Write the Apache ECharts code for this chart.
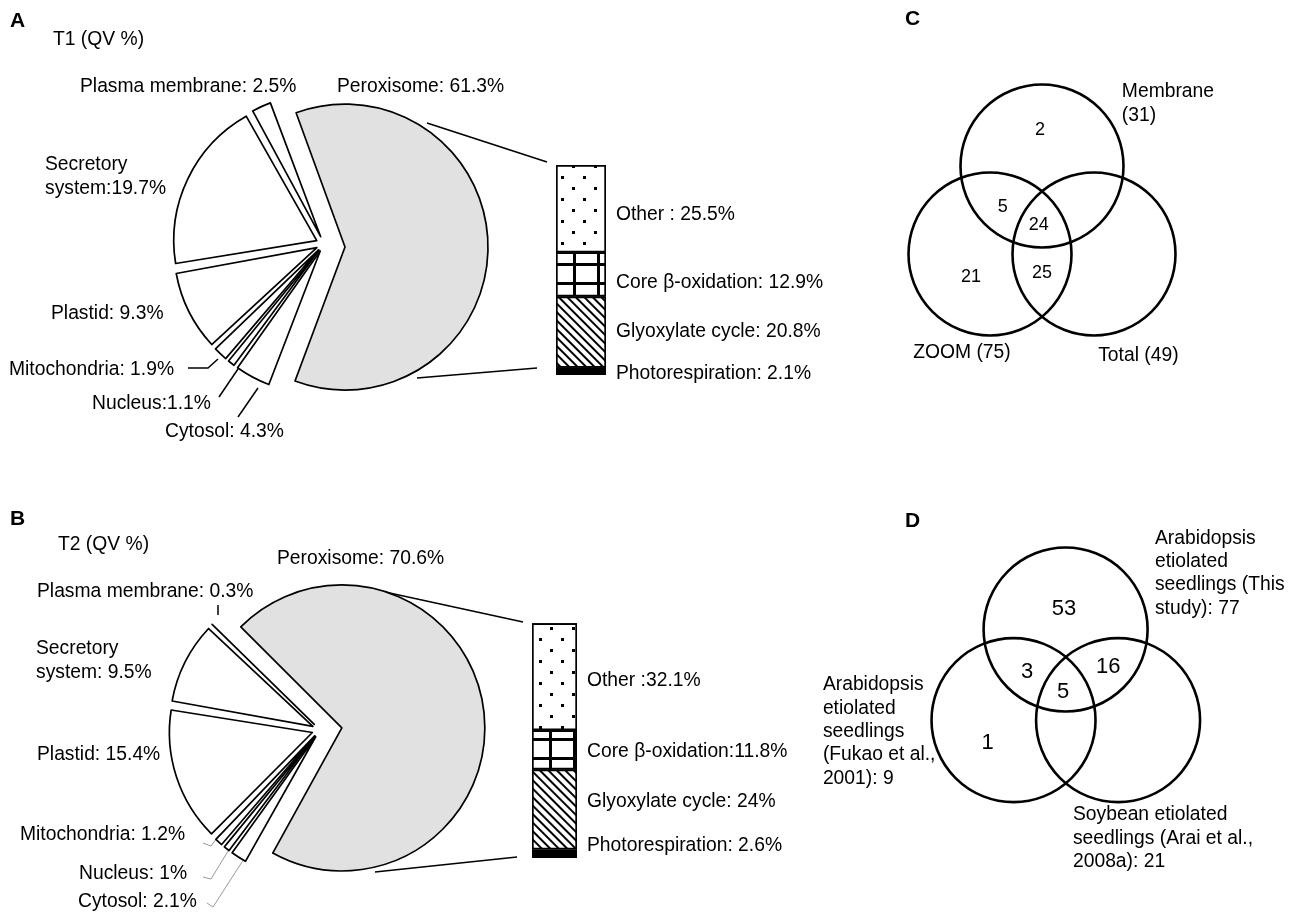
<!DOCTYPE html>
<html>
<head>
<meta charset="utf-8">
<script src="https://cdn.jsdelivr.net/npm/echarts@6/dist/echarts.min.js"></script>
<style>
  html, body { margin: 0; padding: 0; background: #fff; }
  #main { width: 1297px; height: 916px; }
</style>
</head>
<body>
<div id="main"></div>
<script>
// ---- data ----
const compartments = ['Peroxisome', 'Cytosol', 'Nucleus', 'Mitochondria', 'Plastid', 'Secretory system', 'Plasma membrane'];
const t1Share = [61.3, 4.3, 1.1, 1.9, 9.3, 19.7, 2.5];
const t2Share = [70.6, 2.1, 1, 1.2, 15.4, 9.5, 0.3];
const t1Text = ['Peroxisome: 61.3%', 'Cytosol: 4.3%', 'Nucleus:1.1%', 'Mitochondria: 1.9%', 'Plastid: 9.3%', 'Secretory\nsystem:19.7%', 'Plasma membrane: 2.5%'];
const t2Text = ['Peroxisome: 70.6%', 'Cytosol: 2.1%', 'Nucleus: 1%', 'Mitochondria: 1.2%', 'Plastid: 15.4%', 'Secretory\nsystem: 9.5%', 'Plasma membrane: 0.3%'];

// peroxisome break-down (bottom -> top of the stacked bar)
const pathways = ['Photorespiration', 'Glyoxylate cycle', 'Core β-oxidation', 'Other'];
const t1Pathway = [2.1, 20.8, 12.9, 25.5];
const t2Pathway = [2.6, 24, 11.8, 32.1];
const t1PathText = ['Photorespiration: 2.1%', 'Glyoxylate cycle: 20.8%', 'Core β-oxidation: 12.9%', 'Other : 25.5%'];
const t2PathText = ['Photorespiration: 2.6%', 'Glyoxylate cycle: 24%', 'Core β-oxidation:11.8%', 'Other :32.1%'];

// venn diagrams
const vennCSets = ['Membrane\n(31)', 'ZOOM (75)', 'Total (49)'];
const vennCCounts = [2, 5, 24, 21, 25];
const vennDSets = ['Arabidopsis\netiolated\nseedlings (This\nstudy): 77', 'Arabidopsis\netiolated\nseedlings\n(Fukao et al.,\n2001): 9', 'Soybean etiolated\nseedlings (Arai et al.,\n2008a): 21'];
const vennDCounts = [53, 3, 16, 5, 1];

// ---- layout ----
const FONT = '"Liberation Sans", Arial, Helvetica, sans-serif';
const FS = 19.3;
// big slice and small slices are drawn by two pies, each with its own centre/offset
const PIE_A = { bigCenter: [330, 247], smallCenter: [324, 244], r: 143, start: 110, bigOffset: 15, smallOffset: 8, pad: 1.2 };
const PIE_B = { bigCenter: [327, 730], smallCenter: [320, 730], r: 143, start: 135, bigOffset: 15, smallOffset: 8, pad: 1.2 };
// label anchors (left, vertical middle) per compartment
const labelPosA = [[337, 87], [165, 432], [92, 404], [9, 370], [51, 314], [45, 177], [80, 87]];
const labelPosB = [[277, 559], [78, 902], [79, 874], [20, 835], [37, 755], [36, 661], [37, 592]];
const barA = { left: 556, top: 165, width: 50, height: 210, labelShift: [2, 0, 8, 6] };
const barB = { left: 532, top: 623, width: 45, height: 235, labelShift: [-8, -8, 2, 4] };
const vennC = { cx: 1042, cy: 224.7, r: 81.5, fs: 18,
  circles: [[0, 0.72], [-0.638, -0.36], [0.638, -0.36]],
  counts: [[-0.025, 1.16], [-0.48, 0.22], [-0.04, 0], [-0.87, -0.64], [0, -0.59]],
  sets: [[0.98, 1.49], [-1.58, -1.57], [0.69, -1.61]], lh: 24 };
const vennD = { cx: 1065.6, cy: 689.8, r: 82, fs: 22,
  circles: [[0, 0.735], [-0.635, -0.37], [0.64, -0.37]],
  counts: [[-0.02, 0.985], [-0.47, 0.22], [0.52, 0.28], [-0.03, -0.03], [-0.95, -0.65]],
  sets: [[1.09, 1.42], [-2.96, -0.51], [0.09, -1.81]], lh: 23.3 };

const decals = [
  null,
  { symbol: 'rect', symbolSize: 1, color: '#000', backgroundColor: '#fff', dashArrayX: [1, 0], dashArrayY: [1.6, 3.2], rotation: Math.PI / 4 },
  { symbol: 'rect', symbolSize: 1, color: '#fff', backgroundColor: '#000', dashArrayX: [21, 3], dashArrayY: [16, 3] },
  { symbol: 'rect', symbolSize: 1, color: '#000', backgroundColor: '#fff', dashArrayX: [[3, 19], [0, 11, 3, 8]], dashArrayY: [3, 8] }
];
const fills = ['#000', '#fff', '#fff', '#fff'];

const hidden = { color: 'rgba(0,0,0,0)', borderWidth: 0 };

// two overlaid pies: one draws the peroxisome, the other the small compartments
function pieSeries(values, cfg, big) {
  return {
    type: 'pie',
    center: big ? cfg.bigCenter : cfg.smallCenter,
    radius: cfg.r,
    startAngle: cfg.start,
    clockwise: true,
    padAngle: big ? 0 : cfg.pad,
    selectedMode: 'multiple',
    selectedOffset: big ? cfg.bigOffset : cfg.smallOffset,
    silent: true,
    data: values.map((v, i) => ({
      name: compartments[i],
      value: v,
      selected: true,
      itemStyle: (i === 0) === big
        ? { color: i === 0 ? '#e1e1e1' : '#fff', borderColor: '#000', borderWidth: 1.7 }
        : hidden
    })),
    label: { show: false },
    labelLine: { show: false }
  };
}

function pieLabels(texts, pos) {
  return texts.map((t, i) => ({
    type: 'text', silent: true, x: pos[i][0], y: pos[i][1],
    style: { text: t, fill: '#000', fontSize: FS, fontFamily: FONT, lineHeight: 24, align: 'left', verticalAlign: 'middle' }
  }));
}

function barSeries(values, texts, idx, cfg) {
  return pathways.map((name, i) => ({
    type: 'bar',
    name: name,
    stack: 'perox' + idx,
    xAxisIndex: idx,
    yAxisIndex: idx,
    barWidth: '100%',
    silent: true,
    data: [values[i]],
    itemStyle: Object.assign({ color: fills[i], borderColor: '#000', borderWidth: 1.7 }, decals[i] ? { decal: decals[i] } : {}),
    label: {
      show: true,
      position: 'right',
      distance: 10,
      offset: [0, cfg.labelShift[i]],
      formatter: texts[i],
      color: '#000',
      fontSize: FS,
      fontFamily: FONT
    }
  }));
}

function vennSeries(idx, v, sets, counts) {
  return [
    {
      type: 'scatter', xAxisIndex: idx, yAxisIndex: idx, clip: false, silent: true,
      symbol: 'circle', symbolSize: 2 * v.r,
      itemStyle: { color: 'rgba(0,0,0,0)', borderColor: '#000', borderWidth: 2.6, opacity: 1 },
      data: v.circles
    },
    {
      type: 'scatter', xAxisIndex: idx, yAxisIndex: idx, clip: false, silent: true,
      symbolSize: 0, itemStyle: { opacity: 1, color: '#000' },
      data: v.counts.map((p, i) => ({ value: p, label: { formatter: String(counts[i]) } })),
      label: { show: true, position: 'inside', color: '#000', fontSize: v.fs, fontFamily: FONT }
    },
    {
      type: 'scatter', xAxisIndex: idx, yAxisIndex: idx, clip: false, silent: true,
      symbolSize: 0, itemStyle: { opacity: 1, color: '#000' },
      data: v.sets.map((p, i) => ({ value: p, label: { formatter: sets[i] } })),
      label: { show: true, position: 'right', distance: 0, align: 'left', color: '#000', fontSize: FS, fontFamily: FONT, lineHeight: v.lh }
    }
  ];
}

function vennGrid(v) {
  return { left: v.cx - 2 * v.r, top: v.cy - 2 * v.r, width: 4 * v.r, height: 4 * v.r };
}
const hiddenValueAxis = (idx) => ({ type: 'value', gridIndex: idx, min: -2, max: 2, show: false });

const titleStyle = { color: '#000', fontSize: FS, fontWeight: 'normal', fontFamily: FONT };
const letterStyle = { color: '#000', fontSize: 21, fontWeight: 'bold', fontFamily: FONT };

const leaderA = [
  [[188, 368], [208, 368], [218, 359]],
  [[219, 397], [238, 369]],
  [[238, 417], [258, 388]]
];
const leaderB = [
  [[203, 843], [211, 846], [220, 834]],
  [[203, 877], [211, 879], [233, 843]],
  [[207, 903], [213, 907], [251, 848]]
];
const connectors = [
  [[427, 123], [547, 162]],
  [[417, 378], [537, 368]],
  [[385, 592], [523, 622]],
  [[375, 872], [517, 857]]
];
const line = (pts, color, w) => ({ type: 'polyline', silent: true, shape: { points: pts }, style: { stroke: color, lineWidth: w, fill: null } });

const chart = echarts.init(document.getElementById('main'));
const option = {
  backgroundColor: '#fff',
  animation: false,
  textStyle: { fontFamily: FONT },
  title: [
    { text: 'A', left: 10, top: 11, padding: 0, textStyle: letterStyle },
    { text: 'T1 (QV %)', left: 53, top: 30, padding: 0, textStyle: titleStyle },
    { text: 'B', left: 10, top: 509, padding: 0, textStyle: letterStyle },
    { text: 'T2 (QV %)', left: 58, top: 535, padding: 0, textStyle: titleStyle },
    { text: 'C', left: 905, top: 9, padding: 0, textStyle: letterStyle },
    { text: 'D', left: 905, top: 511, padding: 0, textStyle: letterStyle }
  ],
  grid: [
    { left: barA.left, top: barA.top, width: barA.width, height: barA.height },
    { left: barB.left, top: barB.top, width: barB.width, height: barB.height },
    vennGrid(vennC),
    vennGrid(vennD)
  ],
  xAxis: [
    { type: 'category', gridIndex: 0, data: ['T1'], show: false },
    { type: 'category', gridIndex: 1, data: ['T2'], show: false },
    hiddenValueAxis(2),
    hiddenValueAxis(3)
  ],
  yAxis: [
    { type: 'value', gridIndex: 0, min: 0, max: t1Share[0], show: false },
    { type: 'value', gridIndex: 1, min: 0, max: t2Share[0], show: false },
    hiddenValueAxis(2),
    hiddenValueAxis(3)
  ],
  graphic: [
    ...pieLabels(t1Text, labelPosA),
    ...pieLabels(t2Text, labelPosB),
    ...leaderA.map(p => line(p, '#000', 1.5)),
    ...leaderB.map(p => line(p, '#9a9a9a', 1)),
    line([[218, 605], [218, 615]], '#000', 1.5),
    ...connectors.map(p => line(p, '#000', 1.7))
  ],
  series: [
    pieSeries(t1Share, PIE_A, true),
    pieSeries(t1Share, PIE_A, false),
    pieSeries(t2Share, PIE_B, true),
    pieSeries(t2Share, PIE_B, false),
    ...barSeries(t1Pathway, t1PathText, 0, barA),
    ...barSeries(t2Pathway, t2PathText, 1, barB),
    ...vennSeries(2, vennC, vennCSets, vennCCounts),
    ...vennSeries(3, vennD, vennDSets, vennDCounts)
  ]
};
chart.setOption(option);
window.addEventListener('resize', () => chart.resize());
</script>
</body>
</html>
